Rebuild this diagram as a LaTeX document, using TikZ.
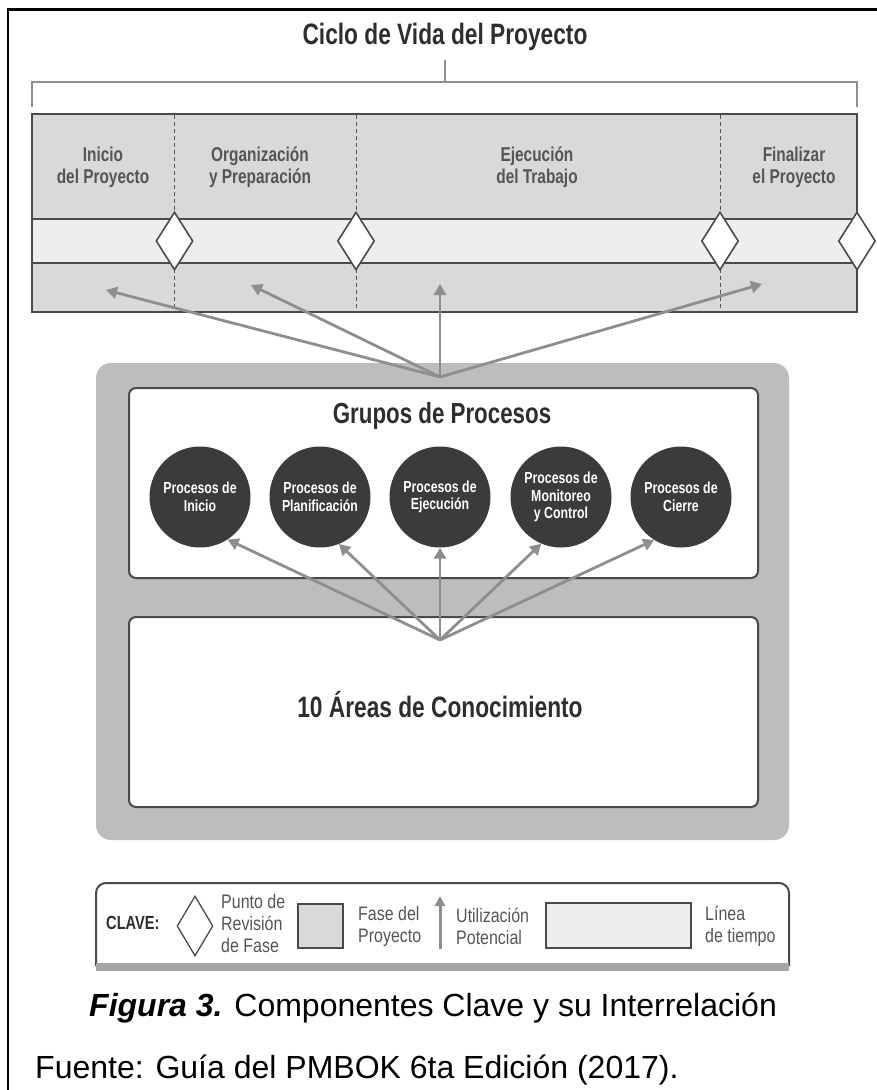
\documentclass[tikz,border=0pt]{standalone}
\usepackage{fontspec}
\setmainfont{Liberation Sans}
\newfontfamily\cnd[FakeStretch=0.82]{Liberation Sans}
\newfontfamily\cndn[FakeStretch=0.77]{Liberation Sans}
\usetikzlibrary{arrows.meta,shapes.geometric}
\definecolor{linedark}{HTML}{4A4A4A}
\definecolor{phasefill}{HTML}{D9D9D9}
\definecolor{bandfill}{HTML}{EEEEEE}
\definecolor{arrowgray}{HTML}{8E8E8E}
\definecolor{outergray}{HTML}{BDBDBD}
\definecolor{circlefill}{HTML}{3D3A3B}
\definecolor{labelgray}{HTML}{555555}
\definecolor{titlegray}{HTML}{2E2E2E}
\definecolor{keybar}{HTML}{A5A5A5}
\begin{document}
\begin{tikzpicture}[x=1pt,y=-1pt,
  useline/.style={draw=arrowgray, line width=2.8pt, -{Triangle[length=11pt,width=12pt]}},
  phaselabel/.style={font=\cndn\bfseries\fontsize{20}{22}\selectfont, text=labelgray, align=center},
  heading/.style={font=\cndn\bfseries\fontsize{29.5}{32}\selectfont, text=titlegray},
  gate/.style={diamond, draw=linedark, fill=white, line width=1.6pt, minimum width=37pt, minimum height=58pt, inner sep=0pt},
  proc/.style={circle, fill=circlefill, minimum size=101pt, inner sep=0pt, text=white, align=center,
    font=\cndn\bfseries\fontsize{16}{17.5}\selectfont},
  panel/.style={draw=linedark, line width=2pt, fill=white, rounded corners=7pt, minimum width=629pt, minimum height=190pt},
  keytext/.style={font=\cnd\fontsize{19.5}{22}\selectfont, text=labelgray, align=left, anchor=west, inner sep=0pt},
  divider/.style={draw=labelgray, line width=1pt, dash pattern=on 4pt off 3pt}
]
\useasboundingbox (0,0) rectangle (877,1090);

% page frame
\draw[black, line width=2.5pt] (8,1090) -- (8,9.5) -- (877,9.5);

% life cycle title and bracket
\node[heading, anchor=base] (lifetitle) at (445,44) {Ciclo de Vida del Proyecto};
\coordinate (bracktop) at (445,60);
\coordinate (brackmid) at (445,82);
\draw[arrowgray, line width=2.5pt] (32,107) -- (32,82) -- (857,82) -- (857,107);
\draw[arrowgray, line width=2.5pt] (bracktop) -- (brackmid);

% phases strip
\node[draw=linedark, fill=phasefill, line width=2pt, minimum width=825pt, minimum height=198pt, inner sep=0pt] (life) at (444.5,213) {};
\node[draw=linedark, fill=bandfill, line width=2.2pt, minimum width=825pt, minimum height=44pt, inner sep=0pt] (timeline) at (444.5,241) {};
\foreach \x in {174.5,356,720} \draw[divider] (\x,115) -- (\x,311);

\node[phaselabel] (ph1) at (103,167) {Inicio\\del Proyecto};
\node[phaselabel] (ph2) at (260,167) {Organización\\y Preparación};
\node[phaselabel] (ph3) at (537,167) {Ejecución\\del Trabajo};
\node[phaselabel] (ph4) at (794,167) {Finalizar\\el Proyecto};

\node[gate] (g1) at (174.5,241) {};
\node[gate] (g2) at (356,241) {};
\node[gate] (g3) at (720,241) {};
\node[gate] (g4) at (857,241) {};

% process groups and knowledge areas
\fill[outergray, rounded corners=15pt] (96,363) rectangle (789,840);
\node[panel] (groups) at (443.5,483) {};
\node[panel] (areas) at (443.5,712) {};
\node[heading, font=\cndn\bfseries\fontsize{29}{32}\selectfont] (groupstitle) at (442,416) {Grupos de Procesos};
\node[heading] (areastitle) at (440,705) {10 Áreas de Conocimiento};

\node[proc] (c1) at (200,497) {Procesos de\\Inicio};
\node[proc] (c2) at (320,497) {Procesos de\\Planificación};
\node[proc] (c3) at (440,497) {Procesos de\\Ejecución};
\node[proc] (c4) at (561,497) {Procesos de\\Monitoreo\\y Control};
\node[proc] (c5) at (681,497) {Procesos de\\Cierre};

% potential use arrows into the life cycle
\coordinate (hubtop) at (440,377);
\coordinate (u1) at (106,290);
\coordinate (u2) at (251,285);
\coordinate (u3) at (440,284);
\coordinate (u4) at (762,284);
\foreach \t in {u1,u2,u3,u4} \draw[useline] (hubtop) -- (\t);

% potential use arrows into the process groups
\coordinate (hubmid) at (440,640);
\draw[useline] (hubmid) -- (c1.-57);
\draw[useline] (hubmid) -- (c2.-68);
\draw[useline] (hubmid) -- (c3.south);
\draw[useline] (hubmid) -- (c4.-113);
\draw[useline] (hubmid) -- (c5.-122);

% key
\draw[linedark, line width=2pt, rounded corners=10pt] (96,966) -- (96,883) -- (789,883) -- (789,966);
\fill[keybar] (96,963) rectangle (789,971);
\node[font=\cndn\bfseries\fontsize{19}{22}\selectfont, text=titlegray, anchor=west, inner sep=0pt] (keyword) at (106,923) {CLAVE:};
\node[diamond, draw=linedark, line width=1.3pt, fill=white, minimum width=36pt, minimum height=60pt, inner sep=0pt] (keygate) at (195,926) {};
\node[keytext] (keygatetext) at (221,924) {Punto de\\Revisión\\de Fase};
\node[draw=linedark, fill=phasefill, line width=2pt, minimum width=45pt, minimum height=44pt, inner sep=0pt] (keyphase) at (320.5,926) {};
\node[keytext] (keyphasetext) at (358,926) {Fase del\\Proyecto};
\coordinate (keyarrowfoot) at (440,949);
\coordinate (keyarrowtip) at (440,896);
\draw[draw=arrowgray, line width=3pt, -{Triangle[length=10pt,width=10pt]}] (keyarrowfoot) -- (keyarrowtip);
\node[keytext] (keyusetext) at (456,926) {Utilización\\Potencial};
\node[draw=linedark, fill=bandfill, line width=2pt, minimum width=145pt, minimum height=45pt, inner sep=0pt] (keytime) at (618.5,925.5) {};
\node[keytext] (keytimetext) at (705,926) {Línea\\de tiempo};

% caption and source
\node[anchor=base west, inner sep=0pt, font=\fontsize{32}{36}\selectfont] (caption) at (89,1016) {\textbf{\textit{Figura 3.}} Componentes Clave y su Interrelación};
\node[anchor=base west, inner sep=0pt, font=\fontsize{32}{36}\selectfont] (source) at (35,1078) {Fuente: Guía del PMBOK 6ta Edición (2017).};
\end{tikzpicture}
\end{document}
